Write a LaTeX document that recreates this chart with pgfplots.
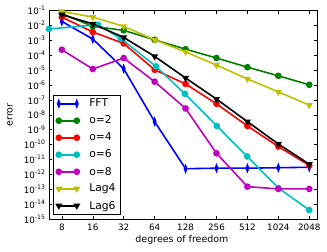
\documentclass[border=0pt]{standalone}
\usepackage{fontspec}
\setmainfont{DejaVu Sans}
\usepackage{pgfplots}
\pgfplotsset{compat=1.18}
\definecolor{mb}{rgb}{0,0,1}
\definecolor{mg}{rgb}{0,0.5,0}
\definecolor{mr}{rgb}{1,0,0}
\definecolor{mc}{rgb}{0,0.75,0.75}
\definecolor{mm}{rgb}{0.75,0,0.75}
\definecolor{my}{rgb}{0.75,0.75,0}
\begin{document}
\begin{tikzpicture}
\useasboundingbox (-49bp,-33bp) rectangle (278bp,219bp);
\begin{axis}[
  at={(0,0)}, anchor=south west,
  scale only axis, width=268bp, height=208.3bp,
  xmode=log, ymode=log, log basis x=2, log basis y=10,
  xmin=6, xmax=2435, ymin=1e-15, ymax=1e-1,
  xtick={8,16,32,64,128,256,512,1024,2048},
  xticklabels={8,16,32,64,128,256,512,1024,2048},
  ytick={1e-1,1e-2,1e-3,1e-4,1e-5,1e-6,1e-7,1e-8,1e-9,1e-10,1e-11,1e-12,1e-13,1e-14,1e-15},
  yticklabel={10\textsuperscript{\pgfmathparse{int(round(\tick))}\pgfmathresult}},
  minor tick num=0, minor xtick={}, minor ytick={},
  tick align=inside, tick pos=both, major tick length=3bp,
  tick style={black, line width=0.5pt},
  ticklabel style={font=\fontsize{8.8}{10}\selectfont},
  xticklabel style={yshift=-1bp},
  axis line style={line width=0.6pt},
  xlabel={degrees of freedom}, ylabel={error},
  label style={font=\fontsize{9.5}{11}\selectfont},
  xlabel style={at={(axis description cs:0.496,-0.1)}, anchor=center},
  ylabel style={at={(axis description cs:-0.145,0.5)}, anchor=center},
  clip mode=individual,
  every axis plot/.append style={line width=1.6pt, mark size=2.5bp, mark options={draw=black, line width=0.3pt}},
  legend image code/.code={\draw[#1,mark repeat=1,mark phase=1] plot coordinates {(0bp,0bp) (18bp,0bp)};},
  legend style={at={(axis description cs:0.015,0.0226)}, anchor=south west, draw=black, line width=0.6pt,
    font=\fontsize{10.8}{12}\selectfont, row sep=3.6bp, inner xsep=3bp, inner ysep=1.5bp,
    /tikz/every odd column/.append style={column sep=8bp}},
  legend cell align=left,
]
\addplot[mb, mark=diamond*, mark options={fill=mb, xscale=0.6, yscale=1.2}] coordinates {
(8,1.9e-2) (16,1.25e-3) (32,1.25e-5) (64,3.5e-9) (128,2.4e-12) (256,2.6e-12) (512,2.6e-12) (1024,2.8e-12) (2048,3.0e-12)};
\addlegendentry{FFT}
\addplot[mg, mark=*, mark options={fill=mg}] coordinates {
(8,6.3e-2) (16,8.9e-3) (32,4.8e-3) (64,1.1e-3) (128,2.6e-4) (256,6.6e-5) (512,1.6e-5) (1024,4.2e-6) (2048,1.05e-6)};
\addlegendentry{o=2}
\addplot[mr, mark=*, mark options={fill=mr}] coordinates {
(8,3.7e-2) (16,3.7e-3) (32,6.3e-4) (64,1.07e-5) (128,1.2e-6) (256,5.5e-8) (512,1.8e-9) (1024,7.4e-11) (2048,4e-12)};
\addlegendentry{o=4}
\addplot[mc, mark=*, mark options={fill=mc}] coordinates {
(6,5.9e-3) (18,1.15e-2) (30,1.35e-3) (66,1.8e-5) (126,2.6e-7) (258,1.8e-9) (510,1.6e-11) (1026,1.2e-13) (2046,4e-15)};
\addlegendentry{o=6}
\addplot[mm, mark=*, mark options={fill=mm}] coordinates {
(8,2.4e-4) (16,1.2e-5) (32,6.6e-5) (64,1.7e-6) (128,2.7e-8) (256,2.6e-11) (512,1.5e-13) (1024,1.05e-13) (2048,1.05e-13)};
\addlegendentry{o=8}
\addplot[my, mark=triangle*, mark options={fill=my, rotate=180}] coordinates {
(8,9e-2) (16,3.7e-2) (32,8.9e-3) (64,1.1e-3) (128,1.7e-4) (256,2.2e-5) (512,2.6e-6) (1024,3.5e-7) (2048,4.5e-8)};
\addlegendentry{Lag4}
\addplot[black, mark=triangle*, mark options={fill=black, rotate=180}] coordinates {
(8,5.4e-2) (16,1.3e-2) (32,1.6e-3) (64,8.5e-5) (128,3e-6) (256,1.15e-7) (512,3.5e-9) (1024,1.1e-10) (2048,4.8e-12)};
\addlegendentry{Lag6}
\end{axis}
\end{tikzpicture}
\end{document}
